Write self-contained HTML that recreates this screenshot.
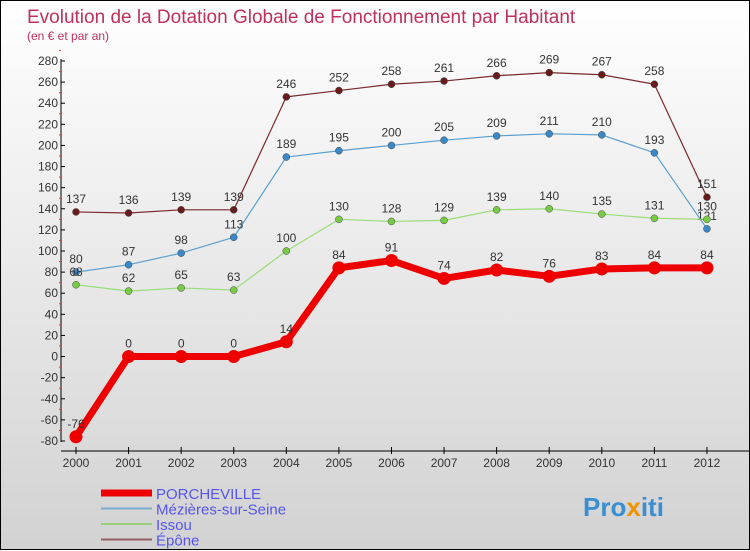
<!DOCTYPE html>
<html><head><meta charset="utf-8"><style>
body{margin:0;width:750px;height:550px;overflow:hidden}
#c{width:748px;height:548px;border:1px solid #000;background:linear-gradient(#fff,#d2d2d2);position:relative;font-family:"Liberation Sans",sans-serif}
svg{position:absolute;left:0;top:0}
</style></head><body>
<div id="c">
<svg id="s" width="750" height="550">
<text x="26" y="22" font-size="19" fill="#c0305a">Evolution de la Dotation Globale de Fonctionnement par Habitant</text>
<text x="26" y="39" font-size="12" fill="#c0305a">(en € et par an)</text>
<text x="582" y="515" font-size="26" font-weight="bold" fill="#3a8fd0">Pro<tspan fill="#f39200">x</tspan>iti</text>
</svg>
</div>
<script>
const years=[2000,2001,2002,2003,2004,2005,2006,2007,2008,2009,2010,2011,2012];
const porcheville=[-76,0,0,0,14,84,91,74,82,76,83,84,84];
const mezieres=[80,87,98,113,189,195,200,205,209,211,210,193,121];
const issou=[68,62,65,63,100,130,128,129,139,140,135,131,130];
const epone=[137,136,139,139,246,252,258,261,266,269,267,258,151];
const yTicks=[-80,-60,-40,-20,0,20,40,60,80,100,120,140,160,180,200,220,240,260,280];
const NS="http://www.w3.org/2000/svg",s=document.getElementById('s');
const X=i=>75+i*52.58, Y=v=>60+(280-v)*380/360;
function el(t,a,p){const e=document.createElementNS(NS,t);for(const k in a)e.setAttribute(k,a[k]);(p||s).appendChild(e);return e;}
let ax=el('line',{x1:60,y1:58,x2:60,y2:441,stroke:'#000'});


let bx=el('line',{x1:60,y1:450,x2:750,y2:450,stroke:'#000'});


yTicks.forEach(v=>{const y=Y(v);
 el('line',{x1:60,y1:y,x2:64,y2:y,stroke:'#000'});
 el('line',{x1:58,y1:Y(v+10),x2:60,y2:Y(v+10),stroke:'#e33'});
 const t=el('text',{x:57,y:y+4,'font-size':12,fill:'#333','text-anchor':'end'});t.textContent=v;
 
 });
years.forEach((yr,i)=>{el('line',{x1:X(i),y1:446,x2:X(i),y2:453,stroke:'#000'});
 const t=el('text',{x:X(i),y:466,'font-size':12,fill:'#333','text-anchor':'middle'});t.textContent=yr;
 
 });
function series(d,col,dot,w,r,name){
 const g=el('g',{});
 
 
 el('polyline',{points:d.map((v,i)=>X(i)+','+Y(v)).join(' '),fill:'none',stroke:col,'stroke-width':w,'stroke-linejoin':'round'},g);
 d.forEach((v,i)=>{const c=el('circle',{cx:X(i),cy:Y(v),r:r,fill:dot,stroke:r>4?'none':'#444','stroke-width':0.5},g);
  
  
  const t=el('text',{x:X(i),y:Y(v)-9,'font-size':12,fill:'#333','text-anchor':'middle'},g);t.textContent=v;
  
  });
}
series(epone,'#7a2a2a','#6a1a1a',1.2,3.5,'series-epone');
series(mezieres,'#5a9fd0','#3a88c8',1.2,3.5,'series-mezieres');
series(issou,'#99dd77','#77cc44',1.2,3.5,'series-issou');
series(porcheville,'#ee0000','#ee0000',7,6.5,'series-porcheville');
const leg=[['PORCHEVILLE','#ee0000',7],['Mézières-sur-Seine','#7aaed0',2],['Issou','#9ad07a',2],['Épône','#946060',2]];
leg.forEach((l,i)=>{const y=492+i*15.5;const g=el('g',{});
 
 
 el('line',{x1:100,y1:y,x2:151,y2:y,stroke:l[1],'stroke-width':l[2]},g);
 const t=el('text',{x:155,y:y+6,'font-size':15,fill:'#5555ee'},g);t.textContent=l[0];});
</script>
</body></html>
